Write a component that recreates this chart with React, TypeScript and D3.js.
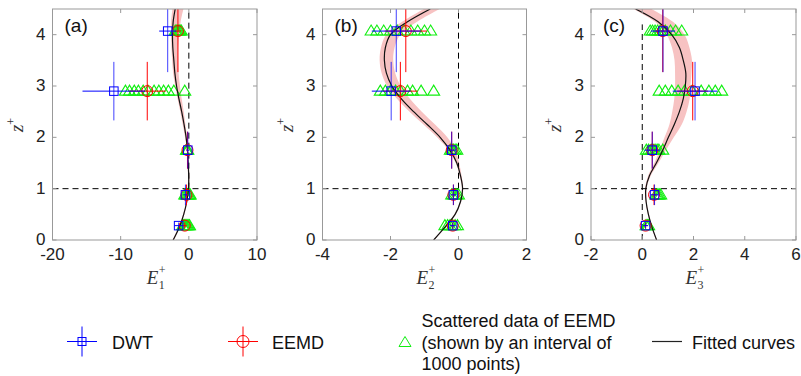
import React from 'react';
import * as d3 from 'd3';

// z+ levels of the binned estimates and their vertical half-widths
const zLevels = [0.28, 0.88, 1.75, 2.9, 4.07];
const zHalf = [0.06, 0.2, 0.36, 0.57, 0.8];

// panel (a)
const dwtA = [-1.5, -0.5, -0.15, -11.0, -3.1];
const dwtErrA = [0.6, 0.3, 0.2, 4.6, 1.25];
const eemdA = [-0.6, -0.35, -0.2, -6.1, -1.6];
const eemdErrA = [0.3, 0.2, 0.15, 2.7, 0.45];
const scatterA = [
  [-0.9, -0.75, -0.6, -0.45, -0.3, -0.15, 0.0, 0.1],
  [-0.6, -0.45, -0.3, -0.15, 0.0, 0.1, 0.2],
  [-0.35, -0.25, -0.15],
  [-9.3, -8.7, -8.0, -7.4, -6.7, -6.0, -5.1, -4.4, -3.7, -3.0, -2.2, -0.6],
  [-2.0, -1.85, -1.7, -1.55, -1.4, -1.25, -1.1],
];

// panel (b)
const dwtB = [-0.17, -0.15, -0.2, -1.98, -1.83];
const dwtErrB = [0.08, 0.08, 0.1, 0.57, 0.72];
const eemdB = [-0.17, -0.15, -0.2, -1.71, -1.55];
const eemdErrB = [0.05, 0.05, 0.08, 0.5, 0.62];
const scatterB = [
  [-0.4, -0.32, -0.25, -0.18, -0.1, -0.03],
  [-0.2, -0.15, -0.1, -0.05, 0.0],
  [-0.24, -0.19, -0.15, -0.1, -0.05],
  [-2.3, -2.15, -2.0, -1.85, -1.7, -1.5, -1.35, -1.1, -0.73],
  [-2.57, -2.4, -2.2, -2.0, -1.8, -1.6, -1.4, -1.2, -1.0, -0.82],
];

// panel (c)
const dwtC = [0.13, 0.48, 0.39, 2.06, 0.81];
const dwtErrC = [0.1, 0.15, 0.3, 0.87, 0.47];
const eemdC = [0.13, 0.46, 0.39, 1.97, 0.8];
const eemdErrC = [0.08, 0.1, 0.2, 0.6, 0.3];
const scatterC = [
  [0.15, 0.2, 0.25],
  [0.53, 0.58, 0.62, 0.67, 0.72],
  [0.16, 0.25, 0.35, 0.42, 0.5, 0.58, 0.65, 0.8],
  [0.66, 0.9, 1.15, 1.4, 1.65, 1.95, 2.3, 2.6, 2.85, 3.1],
  [0.31, 0.4, 0.5, 0.6, 0.7, 0.8, 0.9, 1.1, 1.3, 1.54],
];

// fitted curves and shaded bands, sampled on zFit
const zFit = [0, 0.25, 0.5, 0.75, 1, 1.25, 1.5, 1.75, 2, 2.25, 2.5, 2.75, 3, 3.25, 3.5, 3.75, 4, 4.25, 4.5];
const fitA = [-2.3, -1.4, -0.75, -0.3, -0.05, -0.02, -0.1, -0.2, -0.4, -0.7, -1.05, -1.45, -1.8, -2.05, -2.2, -2.35, -2.4, -2.3, -2.0];
const bandA = [-2.3, -1.4, -0.75, -0.3, -0.05, -0.02, -0.1, -0.2, -0.4, -0.7, -1.0, -1.35, -1.65, -1.9, -2.0, -2.05, -2.0, -1.9, -1.6];
const bandHwA = [0.1, 0.1, 0.1, 0.1, 0.1, 0.1, 0.1, 0.1, 0.15, 0.2, 0.25, 0.3, 0.35, 0.4, 0.45, 0.5, 0.6, 0.7, 0.8];
const fitB = [-0.73, -0.4, -0.1, 0.06, 0.12, 0.06, -0.05, -0.25, -0.54, -0.92, -1.32, -1.68, -1.96, -2.12, -2.18, -2.15, -2.0, -1.5, -0.83];
const bandB = [-0.73, -0.4, -0.1, 0.06, 0.12, 0.06, -0.03, -0.2, -0.48, -0.86, -1.26, -1.62, -1.9, -2.06, -2.12, -2.08, -1.92, -1.44, -0.78];
const bandHwB = [0.02, 0.02, 0.02, 0.02, 0.02, 0.03, 0.05, 0.1, 0.15, 0.17, 0.18, 0.19, 0.2, 0.2, 0.2, 0.2, 0.21, 0.22, 0.23];
const fitC = [0.56, 0.38, 0.24, 0.15, 0.14, 0.28, 0.55, 0.8, 1.02, 1.25, 1.45, 1.6, 1.68, 1.7, 1.6, 1.45, 1.15, 0.62, -0.26];
const bandC = [0.56, 0.38, 0.24, 0.15, 0.14, 0.28, 0.55, 0.8, 1.05, 1.3, 1.45, 1.55, 1.58, 1.6, 1.6, 1.5, 1.3, 0.85, 0.0];
const bandHwC = [0.02, 0.02, 0.02, 0.02, 0.03, 0.05, 0.08, 0.12, 0.18, 0.24, 0.28, 0.3, 0.3, 0.32, 0.34, 0.34, 0.35, 0.35, 0.35];

const panels = [
  { key: 'a', label: '(a)', sub: '1', left: 52.5, right: 257, domain: [-20, 10], ticks: [-20, -10, 0, 10],
    dwt: dwtA, dwtErr: dwtErrA, eemd: eemdA, eemdErr: eemdErrA, scatter: scatterA,
    fit: fitA, band: bandA, bandHw: bandHwA, vDash: [1, 4.5] },
  { key: 'b', label: '(b)', sub: '2', left: 322.5, right: 526.5, domain: [-4, 2], ticks: [-4, -2, 0, 2],
    dwt: dwtB, dwtErr: dwtErrB, eemd: eemdB, eemdErr: eemdErrB, scatter: scatterB,
    fit: fitB, band: bandB, bandHw: bandHwB, vDash: [1, 4.5] },
  { key: 'c', label: '(c)', sub: '3', left: 591, right: 796, domain: [-2, 6], ticks: [-2, 0, 2, 4, 6],
    dwt: dwtC, dwtErr: dwtErrC, eemd: eemdC, eemdErr: eemdErrC, scatter: scatterC,
    fit: fitC, band: bandC, bandHw: bandHwC, vDash: [0, 4.2] },
];

const TOP = 9;
const BOTTOM = 240;
const yTicks = [0, 1, 2, 3, 4];
const BLUE = '#0000ff';
const RED = '#ff0000';
const GREEN = '#11ee11';
const PINK = '#f7c2c2';
const FRAME = '#999999';
const SANS = 'Arial, "Liberation Sans", sans-serif';
const SERIF = '"Liberation Serif", "DejaVu Serif", serif';

const tri = (cx: number, cy: number) =>
  `M${cx - 6},${cy + 4}L${cx + 6},${cy + 4}L${cx},${cy - 6}Z`;

function Panel({ p }: { p: any }) {
  const x = d3.scaleLinear().domain(p.domain).range([p.left, p.right]);
  const y = d3.scaleLinear().domain([0, 4.5]).range([BOTTOM, TOP]);
  const idx = d3.range(zFit.length);

  const fitLine = d3.line<number>()
    .x((i) => x(p.fit[i]))
    .y((i) => y(zFit[i]))
    .curve(d3.curveCatmullRom);

  const band = d3.area<number>()
    .y((i) => y(zFit[i]))
    .x0((i) => x(p.band[i] - p.bandHw[i]))
    .x1((i) => x(p.band[i] + p.bandHw[i]))
    .curve(d3.curveCatmullRom);

  const clipId = `clip-${p.key}`;
  const cx = (p.left + p.right) / 2;

  return (
    <g>
      <defs>
        <clipPath id={clipId}>
          <rect x={p.left} y={TOP} width={p.right - p.left} height={BOTTOM - TOP} />
        </clipPath>
      </defs>
      <g clipPath={`url(#${clipId})`}>
        <path d={band(idx) || ''} fill={PINK} stroke="none" />
        <line x1={p.left} x2={p.right} y1={y(1)} y2={y(1)} stroke="#000" strokeDasharray="6,4" />
        <line x1={x(0)} x2={x(0)} y1={y(p.vDash[0])} y2={y(p.vDash[1])} stroke="#000" strokeDasharray="6,4" />
        {p.scatter.map((row: number[], li: number) =>
          row.map((v, k) => (
            <path key={`t${li}-${k}`} d={tri(x(v), y(zLevels[li]))} fill="none" stroke={GREEN} strokeWidth={1.1} />
          ))
        )}
        <path d={fitLine(idx) || ''} fill="none" stroke="#111" strokeWidth={1.2} />
        {zLevels.map((z, i) => (
          <g key={`e${i}`} stroke={RED} strokeWidth={1} fill="none">
            <line x1={x(p.eemd[i] - p.eemdErr[i])} x2={x(p.eemd[i] + p.eemdErr[i])} y1={y(z)} y2={y(z)} />
            <line x1={x(p.eemd[i])} x2={x(p.eemd[i])} y1={y(z - zHalf[i])} y2={y(z + zHalf[i])} />
            <circle cx={x(p.eemd[i])} cy={y(z)} r={5.5} />
          </g>
        ))}
        {zLevels.map((z, i) => (
          <g key={`d${i}`} stroke={BLUE} strokeWidth={1} fill="none">
            <line x1={x(p.dwt[i] - p.dwtErr[i])} x2={x(p.dwt[i] + p.dwtErr[i])} y1={y(z)} y2={y(z)} />
            <line x1={x(p.dwt[i])} x2={x(p.dwt[i])} y1={y(z - zHalf[i])} y2={y(z + zHalf[i])} strokeOpacity={0.75} />
            <rect x={x(p.dwt[i]) - 4.25} y={y(z) - 4.25} width={8.5} height={8.5} />
          </g>
        ))}
      </g>

      <rect x={p.left} y={TOP} width={p.right - p.left} height={BOTTOM - TOP} fill="none" stroke={FRAME} />
      {p.ticks.map((t: number) => (
        <g key={`xt${t}`}>
          <line x1={x(t)} x2={x(t)} y1={BOTTOM} y2={BOTTOM - 4} stroke={FRAME} />
          <line x1={x(t)} x2={x(t)} y1={TOP} y2={TOP + 4} stroke={FRAME} />
          <text x={x(t)} y={BOTTOM + 20} textAnchor="middle" fontFamily={SANS} fontSize={17} fill="#222">{t}</text>
        </g>
      ))}
      {yTicks.map((t) => (
        <g key={`yt${t}`}>
          <line x1={p.left} x2={p.left + 4} y1={y(t)} y2={y(t)} stroke={FRAME} />
          <line x1={p.right} x2={p.right - 4} y1={y(t)} y2={y(t)} stroke={FRAME} />
          <text x={p.left - 7} y={y(t) + 5} textAnchor="end" fontFamily={SANS} fontSize={17} fill="#222">{t}</text>
        </g>
      ))}
      <text x={p.left + 12} y={32} fontFamily={SANS} fontSize={19} fill="#111">{p.label}</text>
      <text x={cx - 8} y={284} fontFamily={SERIF} fontStyle="italic" fontSize={19} fill="#333">E</text>
      <text x={cx + 4} y={289} fontFamily={SERIF} fontSize={12} fill="#333">{p.sub}</text>
      <text x={cx + 4} y={274} fontFamily={SERIF} fontSize={12} fill="#333">+</text>
      <text transform={`translate(${p.left - 30},125) rotate(-90)`} textAnchor="middle" fontFamily={SERIF} fontStyle="italic" fontSize={19} fill="#333">
        z
        <tspan fontStyle="normal" fontSize={12} dy={-8}>+</tspan>
      </text>
    </g>
  );
}

function Legend() {
  const ly = 341.5;
  return (
    <g fontFamily={SANS} fontSize={18} fill="#111">
      <g stroke={BLUE} fill="none">
        <line x1={67} x2={97} y1={ly} y2={ly} />
        <line x1={82} x2={82} y1={ly - 15} y2={ly + 15} />
        <rect x={78} y={ly - 4} width={8} height={8} />
      </g>
      <text x={112} y={ly + 7}>DWT</text>
      <g stroke={RED} fill="none">
        <line x1={228} x2={258} y1={ly} y2={ly} />
        <line x1={243} x2={243} y1={ly - 15} y2={ly + 15} />
        <circle cx={243} cy={ly} r={6} />
      </g>
      <text x={272} y={ly + 7}>EEMD</text>
      <path d={tri(405, ly + 1)} fill="none" stroke={GREEN} />
      <text x={421.5} y={ly - 14.5}>Scattered data of EEMD</text>
      <text x={421.5} y={ly + 7}>(shown by an interval of</text>
      <text x={421.5} y={ly + 28}>1000 points)</text>
      <line x1={652} x2={682} y1={ly} y2={ly} stroke="#222" strokeWidth={1.2} />
      <text x={692} y={ly + 7}>Fitted curves</text>
    </g>
  );
}

export default function App() {
  return (
    <svg width={801} height={376} style={{ position: 'absolute', left: 0, top: 0, background: '#fff' }}>
      <rect width={801} height={376} fill="#fff" />
      {panels.map((p) => (
        <Panel key={p.key} p={p} />
      ))}
      <Legend />
    </svg>
  );
}
